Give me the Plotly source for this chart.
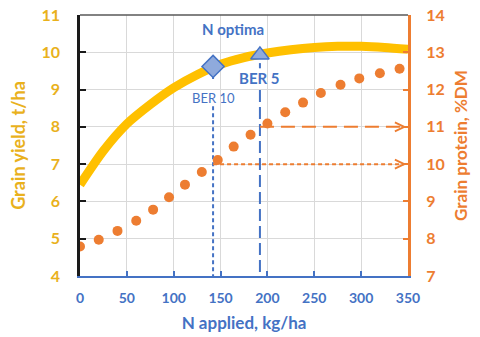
import plotly.graph_objects as go

# Grain yield response curve (t/ha) against N applied (kg/ha)
yield_n = [0, 25, 50, 75, 100, 125, 150, 175, 200, 225, 250, 275, 300, 325, 350]
yield_t = [6.45, 7.36, 8.08, 8.6, 9.05, 9.4, 9.68, 9.86, 9.98, 10.07, 10.13, 10.16, 10.16, 10.13, 10.08]

# Grain protein observations (%DM)
protein_n = [0, 20, 40, 60, 78, 95, 112, 130, 147, 164, 182, 200, 219, 238, 257, 278, 298, 320, 341]
protein_dm = [7.79, 7.97, 8.21, 8.48, 8.78, 9.11, 9.45, 9.79, 10.11, 10.47, 10.79, 11.09,
              11.39, 11.65, 11.91, 12.13, 12.30, 12.44, 12.56]

# N optima at break-even ratios
ber_labels = ["BER 10", "BER 5"]
ber_n = [142, 192]
ber_yield = [9.62, 9.93]
ber_protein = [10, 11]

x_ticks = [0, 50, 100, 150, 200, 250, 300, 350]

GOLD = "#FFC000"
GOLD_TXT = "#E9B11C"
ORANGE = "#ED7D31"
BLUE = "#4472C4"
FONT = "Lato"

fig = go.Figure()

# yield curve
fig.add_trace(go.Scatter(x=yield_n, y=yield_t, mode="lines",
                         line=dict(color=GOLD, width=9, shape="spline", smoothing=0.8),
                         yaxis="y", hoverinfo="skip"))

# vertical guide lines from the optima down to the N axis (broken around the labels)
dash_styles = ["4px,3px", "12px,5px"]
upper = [(ber_yield[0] - 0.23, ber_yield[0] - 0.41), (ber_yield[1] - 0.22, ber_yield[1] - 0.36)]
lower_top = [8.55, 8.99]
for i in range(2):
    fig.add_trace(go.Scatter(x=[ber_n[i], ber_n[i]], y=list(upper[i]), mode="lines",
                             line=dict(color=BLUE, width=2, dash=dash_styles[i]), yaxis="y", hoverinfo="skip"))
    fig.add_trace(go.Scatter(x=[ber_n[i], ber_n[i]], y=[lower_top[i], 4], mode="lines",
                             line=dict(color=BLUE, width=2, dash=dash_styles[i]), yaxis="y", hoverinfo="skip"))

# horizontal guide lines across to the protein axis, with open arrowheads
h_dash = ["4px,3px", "14px,7px"]
x_end = 346
for i in range(2):
    fig.add_trace(go.Scatter(x=[ber_n[i], x_end], y=[ber_protein[i], ber_protein[i]], mode="lines",
                             line=dict(color=ORANGE, width=2, dash=h_dash[i]), yaxis="y2", hoverinfo="skip"))
    fig.add_trace(go.Scatter(x=[x_end - 10, x_end, x_end - 10],
                             y=[ber_protein[i] + 0.12, ber_protein[i], ber_protein[i] - 0.12],
                             mode="lines", line=dict(color=ORANGE, width=1.8), yaxis="y2", hoverinfo="skip"))

# protein points
fig.add_trace(go.Scatter(x=protein_n, y=protein_dm, mode="markers",
                         marker=dict(color=ORANGE, size=10), yaxis="y2", hoverinfo="skip"))

# optimum markers on the yield curve
fig.add_trace(go.Scatter(x=[ber_n[0]], y=[ber_yield[0]], mode="markers",
                         marker=dict(symbol="diamond", size=17, color="#8FAADC",
                                     line=dict(color=BLUE, width=1.5)), yaxis="y", hoverinfo="skip"))
fig.add_trace(go.Scatter(x=[ber_n[1]], y=[ber_yield[1]], mode="markers",
                         marker=dict(symbol="triangle-up", size=16, color="#8FAADC",
                                     line=dict(color=BLUE, width=1.5)), yaxis="y", hoverinfo="skip"))

annotations = [
    dict(x=163.5, y=10.62, xref="x", yref="y", text="<b>N optima</b>", showarrow=False,
         font=dict(family=FONT, size=15, color=BLUE)),
    dict(x=ber_n[1], y=9.32, xref="x", yref="y", text="<b>" + ber_labels[1] + "</b>", showarrow=False,
         font=dict(family=FONT, size=15, color=BLUE)),
    dict(x=ber_n[0], y=8.78, xref="x", yref="y", text=ber_labels[0], showarrow=False,
         font=dict(family=FONT, size=13, color=BLUE)),
]

fig.update_layout(
    width=480, height=337,
    margin=dict(l=80, r=72, t=15, b=61, autoexpand=False),
    paper_bgcolor="white", plot_bgcolor="white",
    showlegend=False,
    font=dict(family=FONT),
    xaxis=dict(range=[0, 350], tickvals=x_ticks, showgrid=True, gridcolor="#D9D9D9", gridwidth=1,
               showline=True, linecolor=BLUE, linewidth=2, ticks="inside", tickcolor=BLUE, ticklen=5,
               tickwidth=1.5, zeroline=False, automargin=False, ticklabelstandoff=8,
               tickfont=dict(family=FONT, size=14, color=BLUE, weight="bold"),
               title=dict(text="<b>N applied, kg/ha</b>", font=dict(family=FONT, size=17, color=BLUE), standoff=12)),
    yaxis=dict(range=[4, 11], dtick=1, showgrid=True, gridcolor="#D9D9D9", gridwidth=1,
               showline=True, linecolor="#1a1a1a", linewidth=2.5, ticks="inside", tickcolor="#1a1a1a",
               ticklen=6, tickwidth=2, zeroline=False, automargin=False, ticklabelstandoff=14,
               tickfont=dict(family=FONT, size=16, color=GOLD_TXT, weight="bold"),
               title=dict(text="<b>Grain yield, t/ha</b>", font=dict(family=FONT, size=18, color=GOLD_TXT), standoff=12)),
    yaxis2=dict(range=[7, 14], dtick=1, overlaying="y", side="right", showgrid=False,
                showline=True, linecolor=ORANGE, linewidth=3, ticks="inside", tickcolor=ORANGE,
                ticklen=5, tickwidth=2, zeroline=False, automargin=False, ticklabelstandoff=12,
                tickfont=dict(family=FONT, size=16, color=ORANGE, weight="bold"),
                title=dict(text="<b>Grain protein, %DM</b>", font=dict(family=FONT, size=17, color=ORANGE), standoff=12)),
    annotations=annotations,
    shapes=[dict(type="line", xref="paper", yref="paper", x0=0, x1=1, y0=1, y1=1,
                 line=dict(color="#595959", width=1.5))],
)

fig.write_html("out.html")
